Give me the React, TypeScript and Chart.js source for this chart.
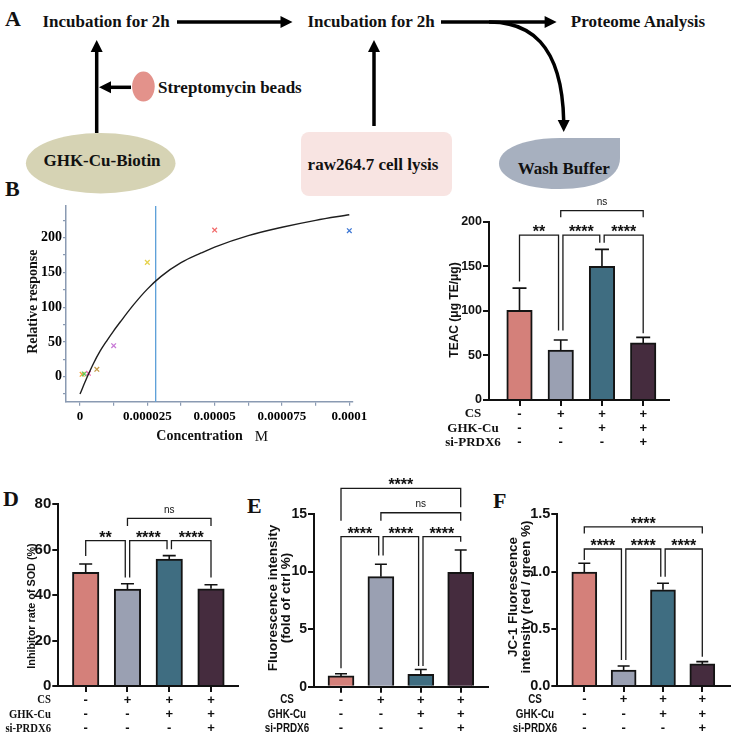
import React, { useEffect, useRef } from 'react';
import { Chart, registerables } from 'chart.js';

Chart.register(...registerables);

const SERIF = "'Liberation Serif', 'Times New Roman', serif";
const SANS = "'Liberation Sans', Arial, Helvetica, sans-serif";

// ---------------- Panel B (binding curve) ----------------
const B_CONC = [0.00000078, 0.0000015625, 0.000003125, 0.00000625, 0.0000125, 0.000025, 0.00005, 0.0001];
const B_RESP = [3.4, 3.9, 4.9, 10.6, 44.6, 164.5, 211, 210];
const B_POINT_COLORS = ['#f4a340', '#5fc95f', '#ef6db5', '#c49a48', '#c87ad6', '#e6d24c', '#f26a6a', '#3f78d4'];
const B_FIT_X = [0, 0.0000025, 0.000005, 0.0000075, 0.00001, 0.0000125, 0.000015, 0.00002, 0.000025, 0.00003, 0.0000375, 0.000045, 0.00005, 0.0000625, 0.000075, 0.0000875, 0.0001];
const B_FIT_Y = [-25, -2, 19, 37, 52, 66, 79, 104, 126, 144, 164, 178, 186.5, 203, 215, 225, 233];
const B_KD = 0.0000281;
const B_XMIN = -0.0000052;
const B_XMAX = 0.00010137;
const B_YMIN = -36;
const B_YMAX = 245.6;
const B_XTICK_VALUES = [0, 0.0000125, 0.000025, 0.0000375, 0.00005, 0.0000625, 0.000075, 0.0000875, 0.0001];
const B_XTICK_LABELS = ['0', '', '0.000025', '', '0.00005', '', '0.000075', '', '0.0001'];
const B_YTICK_VALUES = [-25, 0, 25, 50, 75, 100, 125, 150, 175, 200, 225];
const B_YTICK_LABELS = ['', '0', '', '50', '', '100', '', '150', '', '200', ''];

// ---------------- Bar panels ----------------
const ROW_NAMES = ['CS', 'GHK-Cu', 'si-PRDX6'];
const CS_ROW = ['-', '+', '+', '+'];
const GHK_ROW = ['-', '-', '+', '+'];
const SI_ROW = ['-', '-', '-', '+'];
const BAR_COLORS = ['#d4807a', '#9aa0b2', '#3f6d81', '#452c3e'];

const C_TITLE = ['TEAC (μg TE/μg)'];
const C_MEAN = [100.5, 56, 150, 64];
const C_ERR = [25, 11.3, 19, 6.3];
const C_TICKS = [0, 50, 100, 150, 200];
const C_BRACKETS = [
  { a: 0, b: 1, y: 185, la: 133, lb: 78, text: '**' },
  { a: 1, b: 2, y: 185, la: 78, lb: 176.5, text: '****' },
  { a: 2, b: 3, y: 185, la: 176.5, lb: 75, text: '****' },
  { a: 1, b: 3, y: 212.4, la: 205, lb: 205, text: 'ns' },
];

const D_TITLE = ['Inhibitor rate of SOD (%)'];
const D_MEAN = [50, 42.7, 55.9, 42.8];
const D_ERR = [3.7, 2.3, 1.5, 1.8];
const D_TICKS = [0, 20, 40, 60, 80];
const D_BRACKETS = [
  { a: 0, b: 1, y: 64, la: 57.2, lb: 47.8, text: '**' },
  { a: 1, b: 2, y: 64, la: 47.8, lb: 60.2, text: '****' },
  { a: 2, b: 3, y: 64, la: 60.2, lb: 47.8, text: '****' },
  { a: 1, b: 3, y: 73.8, la: 70.4, lb: 70.4, text: 'ns' },
];

const E_TITLE = ['Fluorescence intensity', '(fold of ctrl %)'];
const E_MEAN = [0.94, 9.56, 1.08, 9.93];
const E_ERR = [0.19, 1.07, 0.42, 1.94];
const E_TICKS = [0, 5, 10, 15];
const E_BRACKETS = [
  { a: 0, b: 3, y: 17.23, la: 14.42, lb: 15.58, text: '****' },
  { a: 1, b: 3, y: 15.11, la: 14.42, lb: 14.42, text: 'ns' },
  { a: 0, b: 1, y: 13.03, la: 1.6, lb: 11.4, text: '****' },
  { a: 1, b: 2, y: 13.03, la: 11.4, lb: 1.8, text: '****' },
  { a: 2, b: 3, y: 13.03, la: 1.8, lb: 12.59, text: '****' },
];

const F_TITLE = ['JC-1 Fluorescence', 'intensity (red / green %)'];
const F_MEAN = [0.995, 0.14, 0.84, 0.193];
const F_ERR = [0.077, 0.035, 0.057, 0.02];
const F_TICKS = [0, 0.5, 1.0, 1.5];
const F_BRACKETS = [
  { a: 0, b: 3, y: 1.391, la: 1.333, lb: 1.333, text: '****' },
  { a: 0, b: 1, y: 1.197, la: 1.1, lb: 0.227, text: '****' },
  { a: 1, b: 2, y: 1.197, la: 0.227, lb: 0.955, text: '****' },
  { a: 2, b: 3, y: 1.197, la: 0.955, lb: 0.256, text: '****' },
];

// ---------------- Layout (page coordinates) ----------------
const B_BOX = { left: 0, top: 170, width: 380, height: 280 };
const B_AREA = { left: 66, right: 353, top: 206, bottom: 401.7 };

const BAR_PANELS = [
  {
    key: 'C', mean: C_MEAN, err: C_ERR, ticks: C_TICKS, decimals: 0, brackets: C_BRACKETS, title: C_TITLE,
    canvas: { left: 365, top: 170, width: 366, height: 280 },
    area: { left: 489, right: 669, top: 221.7, bottom: 400 }, centers: [519.5, 643.2],
    barThickness: 25.5, cap: 14, tickFont: 12.5, titleFont: 12, titleX: [455], titleY: 310,
    rowFamily: SERIF, rowSize: 13, rowSx: 1, rowX: 473, rowAlign: 'center', rowY: [414, 428.3, 442.5],
  },
  {
    key: 'D', mean: D_MEAN, err: D_ERR, ticks: D_TICKS, decimals: 0, brackets: D_BRACKETS, title: D_TITLE,
    canvas: { left: 0, top: 450, width: 245, height: 287 },
    area: { left: 58.3, right: 238, top: 504.3, bottom: 686 }, centers: [85.7, 211],
    barThickness: 26.5, cap: 13, tickFont: 15, titleFont: 10.8, titleX: [31.7], titleY: 606,
    rowFamily: SERIF, rowSize: 13, rowSx: 0.82, rowX: 51, rowAlign: 'right', rowY: [700, 714.5, 728.5],
  },
  {
    key: 'E', mean: E_MEAN, err: E_ERR, ticks: E_TICKS, decimals: 0, brackets: E_BRACKETS, title: E_TITLE,
    canvas: { left: 240, top: 450, width: 250, height: 287 },
    area: { left: 314, right: 488, top: 514, bottom: 686.7 }, centers: [341, 460.7],
    barThickness: 26, cap: 12, tickFont: 14, titleFont: 13.5, titleX: [273.3, 286.7], titleY: 598,
    rowFamily: SANS, rowSize: 12, rowSx: 0.82, rowX: 287, rowAlign: 'center', rowY: [700, 714.5, 728.5],
  },
  {
    key: 'F', mean: F_MEAN, err: F_ERR, ticks: F_TICKS, decimals: 1, brackets: F_BRACKETS, title: F_TITLE,
    canvas: { left: 490, top: 450, width: 241, height: 287 },
    area: { left: 557.3, right: 731, top: 514.3, bottom: 686 }, centers: [584.3, 702.3],
    barThickness: 25, cap: 12, tickFont: 14.5, titleFont: 13.5, titleX: [513.3, 526.7], titleY: 597,
    rowFamily: SANS, rowSize: 12, rowSx: 0.82, rowX: 535, rowAlign: 'center', rowY: [699.5, 714.5, 728.5],
  },
];

function drawText(ctx: any, text: string, x: number, y: number, font: string, align: string, sx = 1, rot = 0) {
  ctx.save();
  ctx.translate(x, y);
  if (rot) ctx.rotate(rot);
  ctx.scale(sx, 1);
  ctx.font = font;
  ctx.fillStyle = '#111';
  ctx.textAlign = align;
  ctx.textBaseline = 'middle';
  ctx.fillText(text, 0, 0);
  ctx.restore();
}

function barPanelPlugin(p: any) {
  return {
    id: 'panel' + p.key,
    afterDraw(chart: any) {
      const { ctx } = chart;
      const x = chart.scales.x;
      const y = chart.scales.y;
      const ox = p.canvas.left;
      const oy = p.canvas.top;
      ctx.save();
      // error bars (upper)
      ctx.strokeStyle = '#111';
      ctx.lineWidth = 1.6;
      p.mean.forEach((m: number, i: number) => {
        const cx = x.getPixelForValue(i);
        const yb = y.getPixelForValue(m);
        const yt = y.getPixelForValue(m + p.err[i]);
        ctx.beginPath();
        ctx.moveTo(cx, yb);
        ctx.lineTo(cx, yt);
        ctx.moveTo(cx - p.cap / 2, yt);
        ctx.lineTo(cx + p.cap / 2, yt);
        ctx.stroke();
      });
      // significance brackets
      ctx.lineWidth = 1.3;
      ctx.strokeStyle = '#1a1a1a';
      p.brackets.forEach((b: any, k: number) => {
        const sharedLeft = p.brackets.some((o: any, j: number) => j !== k && o.y === b.y && o.b === b.a);
        const sharedRight = p.brackets.some((o: any, j: number) => j !== k && o.y === b.y && o.a === b.b);
        let xa = x.getPixelForValue(b.a);
        let xb = x.getPixelForValue(b.b);
        if (sharedLeft) xa += 2.2;
        if (sharedRight) xb -= 2.2;
        const yl = y.getPixelForValue(b.y);
        ctx.beginPath();
        ctx.moveTo(xa, y.getPixelForValue(b.la));
        ctx.lineTo(xa, yl);
        ctx.lineTo(xb, yl);
        ctx.lineTo(xb, y.getPixelForValue(b.lb));
        ctx.stroke();
        const mx = (xa + xb) / 2;
        if (b.text === 'ns') {
          drawText(ctx, 'ns', mx, yl - 8.5, `10px ${SANS}`, 'center');
        } else {
          ctx.save();
          ctx.font = `bold 16px ${SANS}`;
          ctx.fillStyle = '#111';
          ctx.textAlign = 'center';
          ctx.textBaseline = 'alphabetic';
          ctx.fillText(b.text, mx, yl + 2);
          ctx.restore();
        }
      });
      // condition table under the axis
      const rows = [CS_ROW, GHK_ROW, SI_ROW];
      rows.forEach((row, r) => {
        const ry = p.rowY[r] - oy;
        drawText(ctx, ROW_NAMES[r], p.rowX - ox, ry, `bold ${p.rowSize}px ${p.rowFamily}`, p.rowAlign, p.rowSx);
        row.forEach((s, i) => {
          drawText(ctx, s, x.getPixelForValue(i), ry, `bold 13px ${SANS}`, 'center');
        });
      });
      // y title
      p.title.forEach((t: string, li: number) => {
        drawText(ctx, t, p.titleX[li] - ox, p.titleY - oy, `bold ${p.titleFont}px ${SANS}`, 'center', 1, -Math.PI / 2);
      });
      ctx.restore();
    },
  };
}

function makeBarConfig(p: any) {
  const W = p.canvas.width;
  const H = p.canvas.height;
  const areaL = p.area.left - p.canvas.left;
  const areaR = p.area.right - p.canvas.left;
  const areaT = p.area.top - p.canvas.top;
  const areaB = p.area.bottom - p.canvas.top;
  const n = p.mean.length;
  const spacing = (p.centers[1] - p.centers[0]) / (n - 1);
  const xMin = -(p.centers[0] - p.area.left) / spacing;
  const xMax = (n - 1) + (p.area.right - p.centers[1]) / spacing;
  const yMax = p.ticks[p.ticks.length - 1];
  return {
    type: 'bar',
    data: {
      datasets: [{
        data: p.mean.map((v: number, i: number) => ({ x: i, y: v })),
        backgroundColor: BAR_COLORS,
        borderColor: '#141414',
        borderWidth: 2,
        borderSkipped: 'start',
        barThickness: p.barThickness,
      }],
    },
    options: {
      responsive: false,
      animation: false,
      devicePixelRatio: 1,
      layout: { padding: { left: 0, top: areaT, right: W - areaR, bottom: 0 } },
      plugins: { legend: { display: false }, tooltip: { enabled: false } },
      scales: {
        x: {
          type: 'linear', min: xMin, max: xMax, offset: false,
          afterBuildTicks: (s: any) => { s.ticks = p.mean.map((_: number, i: number) => ({ value: i })); },
          ticks: { display: false },
          grid: { display: true, offset: false, drawOnChartArea: false, drawTicks: true, tickLength: 6, color: '#111', lineWidth: 2 },
          border: { display: true, color: '#111', width: 2 },
          afterFit: (s: any) => { s.height = H - areaB; },
        },
        y: {
          type: 'linear', min: 0, max: yMax,
          afterBuildTicks: (s: any) => { s.ticks = p.ticks.map((v: number) => ({ value: v })); },
          ticks: {
            callback: (v: number) => Number(v).toFixed(p.decimals),
            font: { family: SANS, size: p.tickFont, weight: 'bold' }, color: '#111', padding: 1,
          },
          grid: { display: true, drawOnChartArea: false, drawTicks: true, tickLength: 6, color: '#111', lineWidth: 2 },
          border: { display: true, color: '#111', width: 2 },
          afterFit: (s: any) => { s.width = areaL; },
        },
      },
    },
    plugins: [barPanelPlugin(p)],
  };
}

function makeBindingConfig() {
  const W = B_BOX.width;
  const H = B_BOX.height;
  const areaL = B_AREA.left - B_BOX.left;
  const areaR = B_AREA.right - B_BOX.left;
  const areaT = B_AREA.top - B_BOX.top;
  const areaB = B_AREA.bottom - B_BOX.top;
  const axisColor = '#8a9ab2';
  return {
    type: 'scatter',
    data: {
      datasets: [
        {
          type: 'line',
          data: B_FIT_X.map((x, i) => ({ x, y: B_FIT_Y[i] })),
          borderColor: '#1e1e1e', borderWidth: 1.4, pointRadius: 0, fill: false,
          cubicInterpolationMode: 'monotone', showLine: true,
        },
        {
          type: 'scatter',
          data: B_CONC.map((x, i) => ({ x, y: B_RESP[i] })),
          pointStyle: 'crossRot', pointRadius: 3.3, pointBorderWidth: 1.3,
          pointBorderColor: B_POINT_COLORS, pointBackgroundColor: B_POINT_COLORS,
        },
      ],
    },
    options: {
      responsive: false,
      animation: false,
      devicePixelRatio: 1,
      layout: { padding: { left: 0, top: areaT, right: W - areaR, bottom: 0 } },
      plugins: { legend: { display: false }, tooltip: { enabled: false } },
      scales: {
        x: {
          type: 'linear', min: B_XMIN, max: B_XMAX,
          afterBuildTicks: (s: any) => { s.ticks = B_XTICK_VALUES.map((v) => ({ value: v })); },
          ticks: {
            callback: (_v: number, i: number) => B_XTICK_LABELS[i],
            autoSkip: false, maxRotation: 0, padding: 3,
            font: { family: SERIF, size: 13, weight: 'bold' }, color: '#000',
          },
          grid: { display: true, drawOnChartArea: false, drawTicks: true, tickLength: 4, color: axisColor, lineWidth: 1.2 },
          border: { display: true, color: axisColor, width: 1.5 },
          afterFit: (s: any) => { s.height = H - areaB; },
        },
        y: {
          type: 'linear', min: B_YMIN, max: B_YMAX,
          afterBuildTicks: (s: any) => { s.ticks = B_YTICK_VALUES.map((v) => ({ value: v })); },
          ticks: {
            callback: (_v: number, i: number) => B_YTICK_LABELS[i],
            autoSkip: false, padding: 1,
            font: { family: SERIF, size: 14, weight: 'bold' }, color: '#000',
          },
          grid: { display: true, drawOnChartArea: false, drawTicks: true, tickLength: 3, color: axisColor, lineWidth: 1.2 },
          border: { display: true, color: axisColor, width: 1.5 },
          afterFit: (s: any) => { s.width = areaL; },
        },
      },
    },
    plugins: [{
      id: 'bindingExtras',
      beforeDatasetsDraw(chart: any) {
        const { ctx, chartArea } = chart;
        const xk = chart.scales.x.getPixelForValue(B_KD);
        ctx.save();
        ctx.strokeStyle = '#5b9fd8';
        ctx.lineWidth = 1.3;
        ctx.beginPath();
        ctx.moveTo(xk, chartArea.top);
        ctx.lineTo(xk, chartArea.bottom);
        ctx.stroke();
        ctx.restore();
      },
      afterDraw(chart: any) {
        const { ctx } = chart;
        drawText(ctx, 'Relative response', 33 - B_BOX.left, 301.7 - B_BOX.top, `bold 14px ${SERIF}`, 'center', 1, -Math.PI / 2);
        drawText(ctx, 'Concentration', 199.5 - B_BOX.left, 436.7 - B_BOX.top, `bold 14px ${SERIF}`, 'center');
        drawText(ctx, 'M', 261.5 - B_BOX.left, 437.5 - B_BOX.top, `15px ${SERIF}`, 'center');
      },
    }],
  };
}

function ChartCanvas({ box, make }: { box: any; make: () => any }) {
  const ref = useRef<HTMLCanvasElement>(null);
  useEffect(() => {
    const chart = new Chart(ref.current as HTMLCanvasElement, make());
    return () => chart.destroy();
  }, []);
  return (
    <canvas
      ref={ref}
      width={box.width}
      height={box.height}
      style={{ position: 'absolute', left: box.left, top: box.top, width: box.width, height: box.height }}
    />
  );
}

function Arrow({ x1, y1, x2, y2 }: { x1: number; y1: number; x2: number; y2: number }) {
  const dx = x2 - x1;
  const dy = y2 - y1;
  const len = Math.hypot(dx, dy);
  const ux = dx / len;
  const uy = dy / len;
  const hl = 12;
  const hw = 6;
  const bx = x2 - ux * hl;
  const by = y2 - uy * hl;
  return (
    <g>
      <line x1={x1} y1={y1} x2={bx + ux} y2={by + uy} stroke="#000" strokeWidth={3.5} />
      <polygon points={`${x2},${y2} ${bx - uy * hw},${by + ux * hw} ${bx + uy * hw},${by - ux * hw}`} fill="#000" />
    </g>
  );
}

function Schematic() {
  const tf = { fontFamily: SERIF, fontWeight: 'bold' as const, fontSize: 17, fill: '#111' };
  const letter = { fontFamily: SERIF, fontWeight: 'bold' as const, fontSize: 22, fill: '#111' };
  return (
    <svg width={731} height={737} style={{ position: 'absolute', left: 0, top: 0 }}>
      <text x={5} y={26} {...letter}>A</text>
      <text x={5} y={196} {...letter}>B</text>
      <text x={390} y={196} {...letter}>C</text>
      <text x={3} y={506} {...letter}>D</text>
      <text x={247} y={513} {...letter}>E</text>
      <text x={493} y={508} {...letter}>F</text>

      <text x={106} y={27} textAnchor="middle" {...tf}>Incubation for 2h</text>
      <text x={371} y={27} textAnchor="middle" {...tf}>Incubation for 2h</text>
      <text x={638} y={27} textAnchor="middle" {...tf}>Proteome Analysis</text>

      <Arrow x1={177} y1={22} x2={292.5} y2={22} />
      <Arrow x1={441} y1={22} x2={556.6} y2={22} />
      <path d="M 489 22 C 528 22, 562 42, 563.7 121" fill="none" stroke="#000" strokeWidth={3.5} />
      <polygon points="563.7,132 557.7,120 569.7,120" fill="#000" />

      <Arrow x1={96.7} y1={133} x2={96.7} y2={40} />
      <Arrow x1={131} y1={87.3} x2={99} y2={87.3} />
      <ellipse cx={143.4} cy={86.6} rx={11.3} ry={15} fill="#e3928b" />
      <text x={158} y={93} {...tf}>Streptomycin beads</text>

      <ellipse cx={100.7} cy={163.2} rx={74.8} ry={30.2} fill="#d6d3b4" />
      <text x={102} y={166} textAnchor="middle" {...tf}>GHK-Cu-Biotin</text>

      <Arrow x1={374} y1={126} x2={374} y2={40} />
      <rect x={301} y={132} width={151} height={64} rx={8} fill="#f8e4e2" />
      <text x={373} y={170} textAnchor="middle" {...tf}>raw264.7 cell lysis</text>

      <path d="M 620 138 L 620 158 C 620 178 596 189 560 189 C 524 189 499 178 499 163.5 C 499 149 524 138 560 138 Z" fill="#a7b0bf" />
      <text x={563.7} y={174} textAnchor="middle" {...tf}>Wash Buffer</text>
    </svg>
  );
}

export default function App() {
  return (
    <div style={{ position: 'absolute', left: 0, top: 0, width: 731, height: 737, background: '#fff', overflow: 'hidden' }}>
      <Schematic />
      <ChartCanvas box={B_BOX} make={makeBindingConfig} />
      {BAR_PANELS.map((p) => (
        <ChartCanvas key={p.key} box={p.canvas} make={() => makeBarConfig(p)} />
      ))}
    </div>
  );
}
